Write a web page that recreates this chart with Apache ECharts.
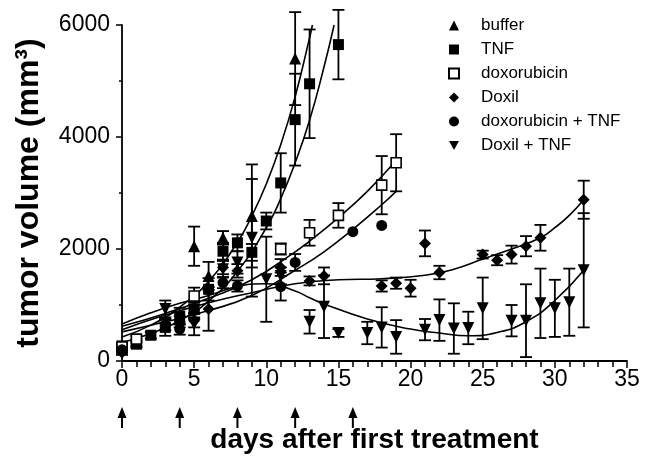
<!DOCTYPE html>
<html>
<head>
<meta charset="utf-8">
<script src="https://cdn.jsdelivr.net/npm/echarts@6/dist/echarts.min.js"></script>
<style>
  html, body { margin: 0; padding: 0; background: #fff; }
  #chart { width: 647px; height: 459px; }
</style>
</head>
<body>
<div id="chart"></div>
<script>
// measured groups: day, mean volume (mm3), error
const bufferDays = [0, 1, 5, 6, 7, 9, 12]
const bufferVals = [220, 330, 2050, 1520, 2200, 2590, 5400]
const bufferErr = [60, 60, 350, 250, 120, 920, 830]

const tnfDays = [0, 1, 2, 3, 4, 5, 6, 7, 8, 9, 10, 11, 12, 13, 15]
const tnfVals = [270, 300, 460, 600, 800, 930, 1280, 1960, 2110, 1940, 2500, 3180, 4310, 4950, 5650]
const tnfErr = [50, 60, 60, 150, 150, 150, 200, 150, 150, 150, 150, 530, 820, 970, 620]

const doxDays = [0, 1, 5, 11, 13, 15, 18, 19]
const doxVals = [250, 390, 1160, 2000, 2290, 2600, 3140, 3540]
const doxErr = [50, 60, 150, 100, 230, 220, 520, 510]

const doxilDays = [0, 4, 5, 6, 7, 8, 11, 13, 14, 18, 19, 20, 21, 22, 25, 26, 27, 28, 29, 32]
const doxilVals = [150, 700, 720, 930, 1670, 1610, 1670, 1430, 1520, 1340, 1390, 1300, 2100, 1580, 1900, 1800, 1900, 2050, 2200, 2880]
const doxilErr = [40, 100, 120, 390, 120, 120, 150, 80, 150, 100, 100, 150, 230, 120, 70, 90, 160, 180, 230, 340]

const doxTnfDays = [0, 3, 4, 5, 7, 8, 11, 12, 16, 18]
const doxTnfVals = [200, 650, 570, 900, 1400, 1340, 1330, 1760, 2310, 2420]
const doxTnfErr = [40, 100, 100, 150, 100, 100, 250, 150, 0, 0]

const doxilTnfDays = [0, 3, 5, 7, 8, 9, 10, 11, 13, 14, 15, 17, 18, 19, 21, 22, 23, 24, 25, 27, 28, 29, 30, 31, 32]
const doxilTnfVals = [160, 930, 660, 1640, 1760, 2200, 1460, 1520, 700, 970, 500, 500, 600, 430, 560, 730, 580, 590, 940, 720, 720, 1030, 940, 1050, 1620]
const doxilTnfErr = [40, 150, 200, 150, 200, 1050, 760, 150, 210, 560, 70, 200, 360, 300, 190, 370, 450, 290, 550, 280, 650, 620, 510, 600, 1020]

// fitted curves
const bufferFit = [[0, 430], [2, 640], [4, 960], [6, 1420], [8, 2120], [9, 2590], [10, 3160], [11, 3860], [12, 4720], [13, 5770], [13.2, 6000]]
const tnfFit = [[0, 330], [2, 490], [4, 720], [6, 1070], [8, 1600], [10, 2380], [11, 2900], [12, 3540], [13, 4300], [14, 5250], [14.7, 6000]]
const doxFit = [[0, 620], [3, 850], [6, 1120], [9, 1450], [12, 1950], [13, 2140], [15, 2560], [17, 3030], [19, 3580]]
const doxTnfFit = [[0, 520], [3, 700], [6, 900], [9, 1170], [12, 1620], [14, 1950], [16, 2350], [18, 2790], [19, 3030]]
const doxilFit = [[0, 560], [3, 820], [6, 1040], [9, 1220], [12, 1380], [15, 1450], [18, 1470], [21, 1530], [23, 1640], [25, 1820], [27, 2000], [29, 2200], [30, 2380], [31, 2600], [32, 2880]]
const doxilTnfFit = [[0, 660], [2, 860], [4, 1030], [6, 1170], [8, 1330], [10, 1380], [12, 1250], [13, 1130], [14, 1020], [17, 750], [20, 570], [22, 500], [24, 450], [26, 510], [28, 700], [30, 1080], [32, 1620]]

const treatmentDays = [0, 4, 8, 12, 16]

const downTriangle = 'path://M0,0 L10,0 L5,9 Z'
const FONT = 'Liberation Sans, Arial, sans-serif'

const pts = (days, vals) => days.map((d, i) => [d, vals[i]])

function errorBars(days, vals, errs) {
  const data = []
  days.forEach((d, i) => {
    if (errs[i] > 0) data.push([d, vals[i] - errs[i], vals[i] + errs[i]])
  })
  return {
    type: 'custom',
    silent: true,
    clip: false,
    z: 2,
    data: data,
    renderItem: (params, api) => {
      const lo = api.coord([api.value(0), Math.max(api.value(1), 0)])
      const hi = api.coord([api.value(0), api.value(2)])
      const w = 6
      const s = { stroke: '#000', lineWidth: 1.8 }
      const kids = [
        { type: 'line', shape: { x1: lo[0], y1: lo[1], x2: hi[0], y2: hi[1] }, style: s },
        { type: 'line', shape: { x1: hi[0] - w, y1: hi[1], x2: hi[0] + w, y2: hi[1] }, style: s }
      ]
      if (api.value(1) > 0) {
        kids.push({ type: 'line', shape: { x1: lo[0] - w, y1: lo[1], x2: lo[0] + w, y2: lo[1] }, style: s })
      }
      return { type: 'group', children: kids }
    }
  }
}

function fitLine(data) {
  return {
    type: 'line',
    data: data,
    smooth: true,
    symbol: 'none',
    silent: true,
    z: 1,
    lineStyle: { color: '#000', width: 1.6 }
  }
}

function group(name, days, vals, symbol, size, fill) {
  return {
    name: name,
    type: 'scatter',
    data: pts(days, vals),
    symbol: symbol,
    symbolSize: size,
    z: 3,
    itemStyle: {
      color: fill,
      borderColor: '#000',
      borderWidth: fill === '#fff' ? 1.6 : 0,
      opacity: 1
    }
  }
}

const chart = echarts.init(document.getElementById('chart'))

chart.setOption({
  animation: false,
  backgroundColor: '#fff',
  grid: { left: 122, right: 20, top: 25, bottom: 97 },
  legend: {
    orient: 'vertical',
    left: 443,
    top: 12,
    itemWidth: 10,
    itemHeight: 10,
    itemGap: 7,
    textStyle: { fontFamily: FONT, fontSize: 17, color: '#000', padding: [0, 0, 0, 17] },
    data: ['buffer', 'TNF', 'doxorubicin', 'Doxil', 'doxorubicin + TNF', 'Doxil + TNF']
  },
  xAxis: {
    type: 'value',
    min: 0,
    max: 35,
    interval: 5,
    name: 'days after first treatment',
    nameLocation: 'middle',
    nameGap: 65,
    nameTextStyle: { fontFamily: FONT, fontSize: 28, fontWeight: 'bold', color: '#000' },
    axisLine: { lineStyle: { color: '#000', width: 1.8 } },
    axisTick: { show: true, length: 7, lineStyle: { color: '#000', width: 1.5 } },
    minorTick: { show: true, splitNumber: 5, length: 6, lineStyle: { color: '#000', width: 1.5 } },
    axisLabel: { fontFamily: FONT, fontSize: 23, color: '#000', margin: 7 },
    splitLine: { show: false }
  },
  yAxis: {
    type: 'value',
    min: 0,
    max: 6000,
    interval: 2000,
    name: 'tumor volume (mm³)',
    nameLocation: 'middle',
    nameGap: 77,
    nameRotate: 90,
    nameTextStyle: { fontFamily: FONT, fontSize: 32, fontWeight: 'bold', color: '#000' },
    axisLine: { show: true, lineStyle: { color: '#000', width: 1.8 } },
    axisTick: { show: true, length: 6, lineStyle: { color: '#000', width: 1.5 } },
    minorTick: { show: true, splitNumber: 2, length: 3, lineStyle: { color: '#000', width: 1.5 } },
    axisLabel: { fontFamily: FONT, fontSize: 23, color: '#000', margin: 12, formatter: v => String(v) },
    splitLine: { show: false }
  },
  series: [
    fitLine(bufferFit),
    fitLine(tnfFit),
    fitLine(doxFit),
    fitLine(doxTnfFit),
    fitLine(doxilFit),
    fitLine(doxilTnfFit),
    errorBars(bufferDays, bufferVals, bufferErr),
    errorBars(tnfDays, tnfVals, tnfErr),
    errorBars(doxDays, doxVals, doxErr),
    errorBars(doxilDays, doxilVals, doxilErr),
    errorBars(doxTnfDays, doxTnfVals, doxTnfErr),
    errorBars(doxilTnfDays, doxilTnfVals, doxilTnfErr),
    group('buffer', bufferDays, bufferVals, 'triangle', 12, '#000'),
    group('TNF', tnfDays, tnfVals, 'rect', 11, '#000'),
    group('doxorubicin', doxDays, doxVals, 'rect', 10, '#fff'),
    group('Doxil', doxilDays, doxilVals, 'diamond', 12, '#000'),
    group('doxorubicin + TNF', doxTnfDays, doxTnfVals, 'circle', 11, '#000'),
    group('Doxil + TNF', doxilTnfDays, doxilTnfVals, downTriangle, 12, '#000'),
    {
      // treatment arrows under the axis
      type: 'custom',
      silent: true,
      clip: false,
      data: treatmentDays.map(d => [d, 0]),
      renderItem: (params, api) => {
        const p = api.coord([api.value(0), 0])
        const tip = p[1] + 46
        return {
          type: 'group',
          children: [
            { type: 'line', shape: { x1: p[0], y1: tip + 6, x2: p[0], y2: tip + 21 }, style: { stroke: '#000', lineWidth: 2 } },
            { type: 'polygon', shape: { points: [[p[0], tip], [p[0] - 4.5, tip + 11], [p[0] + 4.5, tip + 11]] }, style: { fill: '#000' } }
          ]
        }
      }
    }
  ]
})

window.addEventListener('resize', function () {
  chart && chart.resize()
})
</script>
</body>
</html>
